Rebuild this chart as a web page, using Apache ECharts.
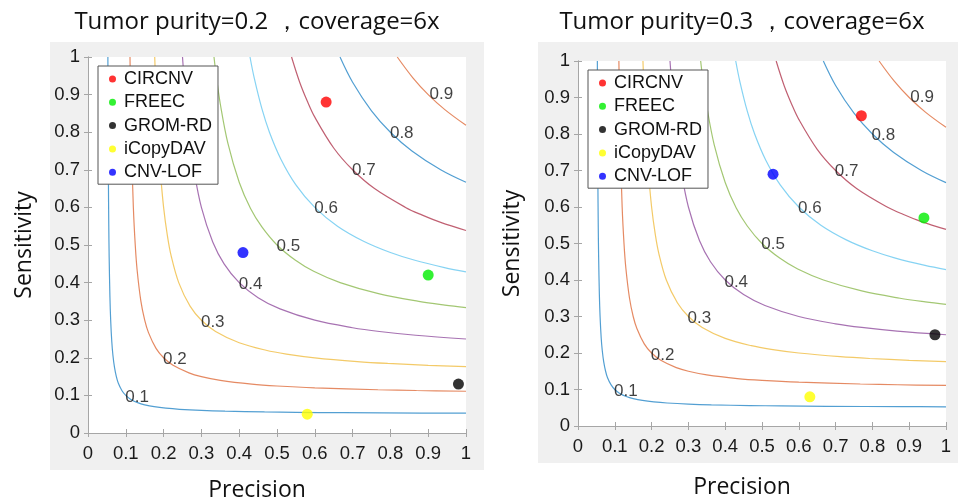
<!DOCTYPE html>
<html>
<head>
<meta charset="utf-8">
<script src="https://cdn.jsdelivr.net/npm/echarts@6/dist/echarts.min.js"></script>
<style>
html,body{margin:0;padding:0;background:#fff;}
#chart{width:958px;height:501px;}
</style>
</head>
<body>
<div id="chart"></div>
<script>
// ---------- data ----------
const panelTitles = ['Tumor purity=0.2 ，coverage=6x', 'Tumor purity=0.3 ，coverage=6x'];
const methods = ['CIRCNV', 'FREEC', 'GROM-RD', 'iCopyDAV', 'CNV-LOF'];
const methodColors = ['#ff0000', '#00ee00', '#000000', '#ffff00', '#0000ff'];

// [precision, sensitivity] for each method, per panel
const pointsPurity02 = [[0.63, 0.88], [0.90, 0.42], [0.98, 0.13], [0.58, 0.05], [0.41, 0.48]];
const pointsPurity03 = [[0.77, 0.85], [0.94, 0.57], [0.97, 0.25], [0.63, 0.08], [0.53, 0.69]];

// iso-F contour levels and their traced curves [precision, sensitivity]
const contourLevels = ['0.1', '0.2', '0.3', '0.4', '0.5', '0.6', '0.7', '0.8', '0.9'];
const contourColors = ['#0072BD', '#D95319', '#EDB120', '#7E2F8E', '#77AC30', '#4DBEEE', '#A2142F', '#0072BD', '#D95319'];
const curve01 = [[0.0526,1],[0.053,0.883],[0.054,0.675],[0.055,0.55],[0.056,0.467],[0.058,0.3625],[0.06,0.3],[0.063,0.242],[0.066,0.206],[0.07,0.175],[0.075,0.15],[0.08,0.133],[0.09,0.1125],[0.1,0.1],[0.1125,0.09],[0.133,0.08],[0.15,0.075],[0.175,0.07],[0.206,0.066],[0.242,0.063],[0.3,0.06],[0.3625,0.058],[0.467,0.056],[0.55,0.055],[0.675,0.054],[0.883,0.053],[1,0.0526]];
const curve02 = [[0.1111,1],[0.113,0.869],[0.115,0.767],[0.12,0.6],[0.125,0.5],[0.13,0.433],[0.14,0.35],[0.15,0.3],[0.16,0.267],[0.18,0.225],[0.2,0.2],[0.225,0.18],[0.267,0.16],[0.3,0.15],[0.35,0.14],[0.433,0.13],[0.5,0.125],[0.6,0.12],[0.767,0.115],[0.869,0.113],[1,0.1111]];
const curve03 = [[0.1765,1],[0.18,0.9],[0.185,0.793],[0.19,0.7125],[0.2,0.6],[0.21,0.525],[0.22,0.471],[0.24,0.4],[0.27,0.3375],[0.3,0.3],[0.3375,0.27],[0.4,0.24],[0.471,0.22],[0.525,0.21],[0.6,0.2],[0.7125,0.19],[0.793,0.185],[0.9,0.18],[1,0.1765]];
const curve04 = [[0.25,1],[0.26,0.867],[0.27,0.771],[0.28,0.7],[0.3,0.6],[0.33,0.508],[0.36,0.45],[0.4,0.4],[0.45,0.36],[0.508,0.33],[0.6,0.3],[0.7,0.28],[0.771,0.27],[0.867,0.26],[1,0.25]];
const curve05 = [[0.3333,1],[0.34,0.944],[0.35,0.875],[0.37,0.771],[0.4,0.667],[0.43,0.597],[0.46,0.548],[0.5,0.5],[0.548,0.46],[0.597,0.43],[0.667,0.4],[0.771,0.37],[0.875,0.35],[0.944,0.34],[1,0.3333]];
const curve06 = [[0.4286,1],[0.44,0.943],[0.46,0.8625],[0.48,0.8],[0.51,0.729],[0.55,0.66],[0.6,0.6],[0.66,0.55],[0.729,0.51],[0.8,0.48],[0.8625,0.46],[0.943,0.44],[1,0.4286]];
const curve07 = [[0.5385,1],[0.56,0.933],[0.58,0.883],[0.6,0.84],[0.65,0.758],[0.7,0.7],[0.758,0.65],[0.84,0.6],[0.883,0.58],[0.933,0.56],[1,0.5385]];
const curve08 = [[0.6667,1],[0.7,0.933],[0.75,0.857],[0.8,0.8],[0.857,0.75],[0.933,0.7],[1,0.6667]];
const curve09 = [[0.8182,1],[0.86,0.944],[0.9,0.9],[0.944,0.86],[1,0.8182]];
const contourCurves = [curve01, curve02, curve03, curve04, curve05, curve06, curve07, curve08, curve09];
// label anchor positions on the curves [precision, sensitivity]
const contourLabelPos = [[0.13,0.095],[0.23,0.195],[0.33,0.295],[0.43,0.395],[0.53,0.497],[0.63,0.597],[0.73,0.698],[0.83,0.796],[0.935,0.9]];

const tickLabels = ['0', '0.1', '0.2', '0.3', '0.4', '0.5', '0.6', '0.7', '0.8', '0.9', '1'];
const axisNames = {x: 'Precision', y: 'Sensitivity'};

// ---------- layout ----------
const grids = [
  {left: 88, top: 57, width: 378, height: 376},
  {left: 578, top: 61, width: 368, height: 365}
];
const nameGaps = [{x: 46, y: 52}, {x: 50, y: 54}];
const panelPoints = [pointsPurity02, pointsPurity03];

const tickFont = 'Liberation Sans, Arial, sans-serif';
const titleFont = 'Open Sans, Noto Sans, sans-serif';
const boxColor = '#a6a6a6';

const xAxes = [], yAxes = [], series = [], legends = [], titles = [];

grids.forEach((g, i) => {
  const base = {
    type: 'value', min: 0, max: 1, interval: 0.1, gridIndex: i,
    splitLine: {show: false},
    axisLine: {show: true, lineStyle: {color: boxColor, width: 1}},
    axisTick: {show: true, inside: true, length: 4, lineStyle: {color: boxColor}},
  };
  xAxes.push(Object.assign({}, base, {
    position: 'bottom',
    name: axisNames.x, nameLocation: 'middle', nameGap: nameGaps[i].x,
    nameTextStyle: {fontFamily: titleFont, fontSize: 23, color: '#111', padding: [0, 40, 0, 0]},
    axisLabel: {margin: 11, fontFamily: tickFont, fontSize: 18.5, color: '#1a1a1a',
      formatter: v => tickLabels[Math.round(v * 10)]}
  }));
  xAxes.push(Object.assign({}, base, {position: 'top', axisLabel: {show: false}}));
  yAxes.push(Object.assign({}, base, {
    position: 'left',
    name: axisNames.y, nameLocation: 'middle', nameGap: nameGaps[i].y,
    nameTextStyle: {fontFamily: titleFont, fontSize: 23, color: '#111'},
    axisLabel: {margin: 8, fontFamily: tickFont, fontSize: 18.5, color: '#1a1a1a',
      formatter: v => tickLabels[Math.round(v * 10)]}
  }));
  yAxes.push(Object.assign({}, base, {position: 'right', axisLabel: {show: false}}));

  const xi = i * 2, yi = i * 2;
  contourCurves.forEach((c, k) => {
    series.push({
      type: 'line', xAxisIndex: xi, yAxisIndex: yi, data: c,
      smooth: 0.35, showSymbol: false, silent: true,
      lineStyle: {color: contourColors[k], width: 1.2, opacity: 0.68},
      z: 2
    });
  });
  series.push({
    type: 'scatter', xAxisIndex: xi, yAxisIndex: yi, silent: true,
    data: contourLabelPos.map((p, k) => [p[0], p[1], contourLevels[k]]),
    symbolSize: 1, itemStyle: {color: 'rgba(0,0,0,0)'},
    label: {show: true, position: 'inside', formatter: p => p.value[2],
      fontFamily: tickFont, fontSize: 17, color: '#111'},
    z: 3
  });
  methods.forEach((m, k) => {
    series.push({
      type: 'scatter', name: m, xAxisIndex: xi, yAxisIndex: yi,
      data: [panelPoints[i][k]], symbol: 'circle', symbolSize: 11,
      itemStyle: {color: methodColors[k]}, z: 4
    });
  });
  legends.push({
    orient: 'vertical', left: g.left + 10, top: g.top + 9,
    data: methods, icon: 'circle', itemWidth: 7, itemHeight: 7, itemGap: 5.3,
    padding: [4, 6, 3, 11],
    backgroundColor: '#fff', borderColor: '#555', borderWidth: 1,
    textStyle: {fontFamily: tickFont, fontSize: 18, color: '#111', padding: [0, 0, 0, 3], lineHeight: 18},
    selectedMode: false
  });
  titles.push({
    text: panelTitles[i], left: g.left + g.width / 2 - 20, top: 10, textAlign: 'center', padding: 0,
    textStyle: {fontFamily: titleFont, fontSize: 24, fontWeight: 'normal', color: '#111'}
  });
});

const chart = echarts.init(document.getElementById('chart'), null, {renderer: 'canvas'});
chart.setOption({
  animation: false,
  backgroundColor: '#fff',
  title: titles,
  grid: grids.map(g => Object.assign({show: true, backgroundColor: '#fff', borderWidth: 0,
    containLabel: false, outerBoundsMode: 'none'}, g)),
  xAxis: xAxes,
  yAxis: yAxes,
  legend: legends,
  graphic: [
    {type: 'rect', z: -100, shape: {x: 50, y: 42, width: 434, height: 428}, style: {fill: '#f0f0f0'}},
    {type: 'rect', z: -100, shape: {x: 538, y: 42, width: 420, height: 421}, style: {fill: '#f0f0f0'}}
  ],
  series: series
});
</script>
</body>
</html>
